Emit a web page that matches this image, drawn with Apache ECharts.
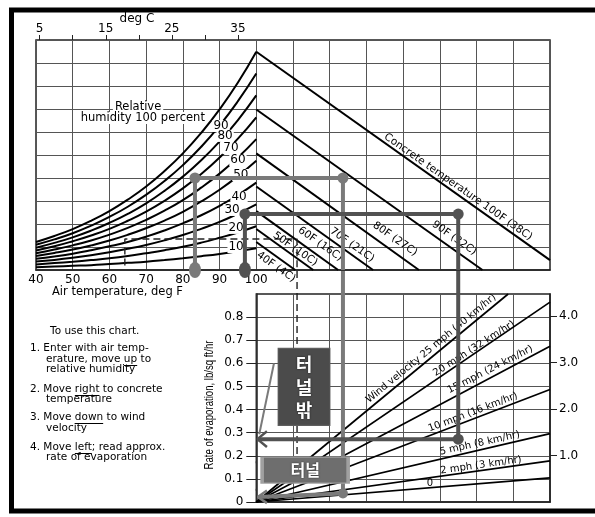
<!DOCTYPE html>
<html><head><meta charset="utf-8">
<script src="https://cdn.jsdelivr.net/npm/echarts@6/dist/echarts.min.js"></script>
<style>html,body{margin:0;padding:0;background:#fff}#c{width:595px;height:517px}</style>
</head><body><div id="c"></div>
<script>
// ---------------- DATA ----------------
const airTempF = [40,45,50,55,60,65,70,75,80,85,90,95,100];
const rh100 = [0.122,0.148,0.178,0.214,0.256,0.306,0.363,0.430,0.507,0.596,0.698,0.815,0.949];
const rh90  = [0.110,0.133,0.160,0.193,0.231,0.275,0.327,0.387,0.456,0.536,0.628,0.734,0.854];
const rh80  = [0.097,0.118,0.142,0.171,0.205,0.244,0.290,0.344,0.406,0.477,0.559,0.652,0.759];
const rh70  = [0.085,0.103,0.125,0.150,0.179,0.214,0.254,0.301,0.355,0.417,0.489,0.571,0.664];
const rh60  = [0.073,0.089,0.107,0.128,0.154,0.183,0.218,0.258,0.304,0.358,0.419,0.489,0.569];
const rh50  = [0.061,0.074,0.089,0.107,0.128,0.153,0.182,0.215,0.253,0.298,0.349,0.408,0.475];
const rh40  = [0.049,0.059,0.071,0.086,0.103,0.122,0.145,0.172,0.203,0.238,0.279,0.326,0.380];
const rh30  = [0.037,0.044,0.053,0.064,0.077,0.092,0.109,0.129,0.152,0.179,0.209,0.245,0.285];
const rh20  = [0.024,0.030,0.036,0.043,0.051,0.061,0.073,0.086,0.101,0.119,0.140,0.163,0.190];
const rh10  = [0.012,0.015,0.018,0.021,0.026,0.031,0.036,0.043,0.051,0.060,0.070,0.082,0.095];
const rhCurves = [rh100,rh90,rh80,rh70,rh60,rh50,rh40,rh30,rh20,rh10];
const rhLabels = ['90','80','70','60','50','40','30','20','10'];

const concreteLabels = ['40F (4C)','50F (10C)','60F (16C)','70F (21C)','80F (27C)','90F (32C)','Concrete temperature 100F (38C)'];
const concreteStartVp = [0.122,0.178,0.256,0.363,0.507,0.698,0.949];
const concreteEndTemp = [110.6,115.5,122.3,131.8,144.3,161.6,180];
const concreteEndVp   = [0,0,0,0,0,0,0.043];

const windLabels = ['0','2 mph (3 km/hr)','5 mph (8 km/hr)','10 mph (16 km/hr)','15 mph (24 km/hr)','20 mph (32 km/hr)','Wind velocity 25 mph (40 km/hr)'];
const windEndTemp = [180,180,180,180,180,180,168.6];
const windEndRate = [0.104,0.178,0.296,0.487,0.674,0.865,0.9];

const airTickLabels = [40,50,60,70,80,90,100];
const degCTicks = [5,10,15,20,25,30,35];
const degCLabels = [5,15,25,35];
const rateTicks = [0,0.1,0.2,0.3,0.4,0.5,0.6,0.7,0.8];
const kgTicks = [1,2,3,4];

// annotation paths
const insidePath  = {air:83.3, vp:0.40,  concrete:123.6, rate:0.037, arrowRate:0.022};
const outsidePath = {air:96.9, vp:0.243, concrete:155.0, rate:0.272, arrowRate:0.272};
const examplePath = {air:64.2, vp:0.135, concrete:111.1, rateEnd:0.1};

// ---------------- LAYOUT / STYLE ----------------
const FONT = "'DejaVu Sans', sans-serif";
const INK = '#000';
const GRIDC = '#555';
const LIGHT = '#7a7a7a', DARK = '#525252';
const rhLabelAnchor = [[90.4,0.626],[91.5,0.583],[93.1,0.530],[95.0,0.478],[95.8,0.413],[95.3,0.317],[93.4,0.261],[94.5,0.183],[94.5,0.100]];
const concreteLabelAnchor = [[105.4,0.013],[110.6,0.091],[117.4,0.113],[126.1,0.109],[137.8,0.135],[153.9,0.139],[155.0,0.361]];
const windLabelAnchor = [[147.3,0.082],[161.2,0.159],[160.9,0.254],[159.0,0.388],[163.7,0.573],[159.3,0.664],[147.6,0.664]];
const windLabelRot = [0,8,12.5,20.8,27,32.5,39.5];

const chart = echarts.init(document.getElementById('c'), null, {renderer:'canvas'});

const series = [];
rhCurves.forEach(arr => series.push({
  type:'line', xAxisIndex:0, yAxisIndex:0, smooth:true, symbol:'none', silent:true, z:3,
  lineStyle:{color:INK, width:2}, data: airTempF.map((t,i)=>[t, arr[i]])
}));
concreteStartVp.forEach((v,i) => series.push({
  type:'line', xAxisIndex:0, yAxisIndex:0, symbol:'none', silent:true, z:3,
  lineStyle:{color:INK, width:2}, data:[[100, v],[concreteEndTemp[i], concreteEndVp[i]]]
}));
windEndRate.forEach((v,i) => series.push({
  type:'line', xAxisIndex:2, yAxisIndex:1, symbol:'none', silent:true, z:3,
  lineStyle:{color:INK, width:1.7}, data:[[100, 0],[windEndTemp[i], v]]
}));
// dashed example path
series.push({type:'line', xAxisIndex:0, yAxisIndex:0, symbol:'none', silent:true, z:3, clip:false,
  lineStyle:{color:'#222', width:1.4, type:[7,4]},
  data:[[examplePath.air,0.02],[examplePath.air,examplePath.vp],[examplePath.concrete,examplePath.vp],[examplePath.concrete,0]]});
series.push({type:'line', xAxisIndex:2, yAxisIndex:1, symbol:'none', silent:true, z:3, clip:false,
  lineStyle:{color:'#222', width:1.4, type:[7,4]},
  data:[[examplePath.concrete,1.0],[examplePath.concrete,examplePath.rateEnd]]});

// labels
const labelSeries = (xi, yi, anchors, texts, rots, extra) => ({
  type:'scatter', xAxisIndex:xi, yAxisIndex:yi, symbolSize:1, clip:false, silent:true, z:4,
  itemStyle:{color:'rgba(0,0,0,0)', opacity:1},
  label:Object.assign({show:true, position:'inside', color:INK, opacity:1, fontFamily:FONT, fontSize:11}, extra||{}),
  data: anchors.map((p,i)=>({value:p, label:{formatter:texts[i], rotate:rots?rots[i]:0}}))
});
series.push(labelSeries(0,0,rhLabelAnchor, rhLabels, null, {fontSize:12, backgroundColor:'#fff', padding:[0,1]}));
series.push(labelSeries(0,0,[[67.8,0.709],[69.1,0.661]], ['Relative','humidity 100 percent'], null, {fontSize:11.5, backgroundColor:'#fff', padding:[0,2]}));
series.push(labelSeries(0,0,concreteLabelAnchor, concreteLabels, concreteLabels.map(()=>-35), {fontSize:10.5}));
series.push(labelSeries(2,1,windLabelAnchor, windLabels, windLabelRot, {fontSize:10}));

// annotation paths
const pathLine = (xi, yi, color, data, w) => ({type:'line', xAxisIndex:xi, yAxisIndex:yi, symbol:'none', silent:true, z:6, clip:false,
  lineStyle:{color, width:w||4, opacity:1}, data});
series.push(pathLine(0,0,LIGHT,[[insidePath.air,0],[insidePath.air,insidePath.vp],[insidePath.concrete,insidePath.vp],[insidePath.concrete,0]]));
series.push(pathLine(2,1,LIGHT,[[insidePath.concrete,1.0],[insidePath.concrete,insidePath.rate],[100.6,insidePath.arrowRate]]));
series.push(pathLine(2,1,LIGHT,[[102.9,0.05],[100.4,insidePath.arrowRate],[102.9,-0.005]],2.5));
series.push(pathLine(0,0,DARK,[[outsidePath.air,0],[outsidePath.air,outsidePath.vp],[outsidePath.concrete,outsidePath.vp],[outsidePath.concrete,0]]));
series.push(pathLine(2,1,DARK,[[outsidePath.concrete,1.0],[outsidePath.concrete,outsidePath.rate],[100.3,outsidePath.arrowRate]]));
series.push(pathLine(2,1,DARK,[[102.9,0.306],[100.3,outsidePath.arrowRate],[102.9,0.238]],2.5));
// callout and bracket
series.push(pathLine(2,1,LIGHT,[[104.8,0.599],[100.8,0.293]],2));
series.push(pathLine(2,1,LIGHT,[[99.9,0.172],[98.2,0.172],[98.2,0.06],[99.9,0.052]],2));

// dots
const dots = (xi, yi, color, pts, size) => ({type:'scatter', xAxisIndex:xi, yAxisIndex:yi, symbol:'circle', symbolSize:size, clip:false, silent:true, z:7,
  itemStyle:{color, opacity:1}, data:pts});
series.push(dots(0,0,LIGHT,[[insidePath.air,insidePath.vp],[insidePath.concrete,insidePath.vp]],11));
series.push(dots(0,0,DARK,[[outsidePath.air,outsidePath.vp],[outsidePath.concrete,outsidePath.vp]],11));
series.push(dots(0,0,LIGHT,[[insidePath.air,0]],[12,16]));
series.push(dots(0,0,DARK,[[outsidePath.air,0]],[12,16]));
series.push(dots(2,1,LIGHT,[[insidePath.concrete,insidePath.rate]],10));
series.push(dots(2,1,DARK,[[outsidePath.concrete,outsidePath.rate]],11));

// Korean boxes
series.push({type:'scatter', xAxisIndex:2, yAxisIndex:1, symbol:'rect', symbolSize:[52,77], clip:false, silent:true, z:8,
  itemStyle:{color:'#4b4b4b', borderColor:'#5e5e5e', borderWidth:1, opacity:1},
  label:{show:true, position:'inside', formatter:'터\n널\n밖', color:'#fff', opacity:1, fontSize:18, fontWeight:'bold', lineHeight:23,
    fontFamily:"'Noto Sans CJK KR', sans-serif", textShadowColor:'rgba(0,0,0,0.7)', textShadowBlur:2},
  data:[[113.0,0.498]]});
series.push({type:'scatter', xAxisIndex:2, yAxisIndex:1, symbol:'rect', symbolSize:[86,26], clip:false, silent:true, z:8,
  itemStyle:{color:'#6e6e6e', borderColor:'#a0a0a0', borderWidth:2, opacity:1},
  label:{show:true, position:'inside', formatter:'터널', color:'#fff', opacity:1, fontSize:16, fontWeight:'bold',
    fontFamily:"'Noto Sans CJK KR', sans-serif", textShadowColor:'rgba(0,0,0,0.7)', textShadowBlur:2},
  data:[[113.3,0.138]]});

// ---------------- GRAPHIC TEXT ----------------
const graphic = [];
graphic.push({type:'rect', shape:{x:11.5, y:10, width:620, height:501}, style:{fill:'none', stroke:'#000', lineWidth:5}, z:100});
const txt = (text, x, y, font, align, extra) => Object.assign({type:'text', x, y, z:50,
  style:{text, font, fill:INK, align:align||'left', textAlign:align||'left', verticalAlign:'middle', textVerticalAlign:'middle'}}, extra||{});
graphic.push(txt('deg C', 137, 19, "12px "+FONT, 'center'));
graphic.push(txt('Air temperature, deg F', 52, 292, "11.5px "+FONT, 'left'));
const instrFont = "10.5px "+FONT;
const instr = [
 ['To use this chart.', 50, 331],
 ['1. Enter with air temp-', 30, 348],
 ['erature, move up to', 46, 359],
 ['relative humidity', 46, 369],
 ['2. Move right to concrete', 30, 389],
 ['temperature', 46, 399],
 ['3. Move down to wind', 30, 417],
 ['velocity', 46, 428],
 ['4. Move left; read approx.', 30, 447],
 ['rate of evaporation', 46, 457]
];
instr.forEach(l => graphic.push(txt(l[0], l[1], l[2], instrFont, 'left')));
const mctx = document.createElement('canvas').getContext('2d');
mctx.font = instrFont;
[[2,'erature, move ','up'],[4,'2. Move ','right'],[6,'3. Move ','down'],[8,'4. Move ','left']].forEach(u => {
  const l = instr[u[0]];
  const x0 = l[1] + mctx.measureText(u[1]).width;
  const w = mctx.measureText(u[2]).width;
  graphic.push({type:'line', z:50, shape:{x1:x0, y1:l[2]+6.5, x2:x0+w, y2:l[2]+6.5}, style:{stroke:INK, lineWidth:1}});
});
graphic.push({type:'text', x:209, y:405, rotation:Math.PI/2, scaleX:0.74, z:50,
  style:{text:'Rate of evaporation, lb/sq ft/hr', font:"13px 'Liberation Sans', sans-serif", fill:INK,
    align:'center', textAlign:'center', verticalAlign:'middle', textVerticalAlign:'middle'}});

const axisLbl = {color:INK, fontSize:12, fontFamily:FONT};
const option = {
  animation:false,
  backgroundColor:'#fff',
  grid:[
    {left:36, top:40, width:514, height:230, show:true, borderColor:'#222', borderWidth:1.5},
    {left:256.3, top:294, width:293.7, height:208, show:true, borderColor:'#222', borderWidth:1.5}
  ],
  xAxis:[
    {gridIndex:0, type:'value', min:40, max:180, interval:10,
      axisLine:{show:true, lineStyle:{color:'#222', width:1.5}}, axisTick:{show:false},
      axisLabel:Object.assign({customValues:airTickLabels, margin:4}, axisLbl),
      splitLine:{show:true, lineStyle:{color:GRIDC, width:1}}},
    {gridIndex:0, type:'value', position:'top', min:(40-32)/1.8, max:(180-32)/1.8,
      axisLine:{show:false}, axisTick:{show:true, customValues:degCTicks, length:5, lineStyle:{color:'#222'}},
      axisLabel:Object.assign({customValues:degCLabels, margin:5}, axisLbl), splitLine:{show:false}},
    {gridIndex:1, type:'value', min:100, max:180, interval:10,
      axisLine:{show:true, lineStyle:{color:'#222', width:1.5}}, axisTick:{show:false}, axisLabel:{show:false},
      splitLine:{show:true, lineStyle:{color:GRIDC, width:1}}}
  ],
  yAxis:[
    {gridIndex:0, type:'value', min:0, max:1, interval:0.1, axisLine:{show:false}, axisTick:{show:false},
      axisLabel:{show:false}, splitLine:{show:true, lineStyle:{color:GRIDC, width:1}}},
    {gridIndex:1, type:'value', min:0, max:0.9, interval:0.1, position:'left',
      axisLine:{show:true, lineStyle:{color:'#222', width:1.5}},
      axisTick:{show:true, customValues:rateTicks, length:10, lineStyle:{color:'#222'}},
      axisLabel:Object.assign({customValues:rateTicks, margin:13, formatter:v => v===0 ? '0' : v.toFixed(1)}, axisLbl),
      splitLine:{show:true, lineStyle:{color:GRIDC, width:1}}},
    {gridIndex:1, type:'value', min:0, max:4.47, position:'right',
      axisLine:{show:true, lineStyle:{color:'#222', width:1.5}},
      axisTick:{show:true, customValues:kgTicks, length:7, lineStyle:{color:'#222'}},
      axisLabel:Object.assign({customValues:kgTicks, margin:9, formatter:v => v.toFixed(1)}, axisLbl),
      splitLine:{show:false}}
  ],
  graphic,
  series
};
chart.setOption(option);
</script>
</body></html>
